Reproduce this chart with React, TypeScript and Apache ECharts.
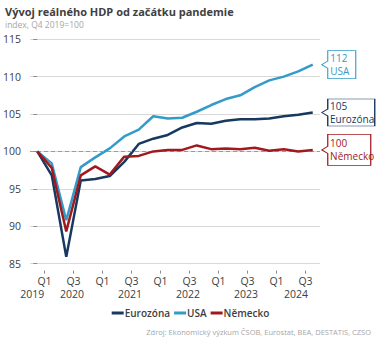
import React, { useEffect, useRef } from "react";
import * as echarts from "echarts";

const categories = [
  "Q4 2019", "Q1 2020", "Q2 2020", "Q3 2020", "Q4 2020",
  "Q1 2021", "Q2 2021", "Q3 2021", "Q4 2021",
  "Q1 2022", "Q2 2022", "Q3 2022", "Q4 2022",
  "Q1 2023", "Q2 2023", "Q3 2023", "Q4 2023",
  "Q1 2024", "Q2 2024", "Q3 2024",
];

const eurozona = [100, 96.8, 85.9, 96.1, 96.3, 96.7, 98.6, 101.0, 101.7, 102.2, 103.2, 103.8, 103.7, 104.1, 104.3, 104.3, 104.4, 104.7, 104.9, 105.2];
const usa = [100, 98.4, 90.8, 97.9, 99.2, 100.4, 102.0, 102.9, 104.7, 104.4, 104.5, 105.3, 106.2, 107.0, 107.5, 108.6, 109.5, 110.0, 110.7, 111.6];
const nemecko = [100, 97.8, 89.3, 96.8, 98.0, 96.9, 99.3, 99.4, 100.0, 100.2, 100.2, 100.8, 100.3, 100.4, 100.3, 100.5, 100.1, 100.3, 100.0, 100.2];

const seriesNames = ["Eurozóna", "USA", "Německo"];
const quarterTickLabels = ["Q1", "Q3", "Q1", "Q3", "Q1", "Q3", "Q1", "Q3", "Q1", "Q3"];
const yearLabels = ["2019", "2020", "2021", "2022", "2023", "2024"];
const baseline = 100;

const titleText = "Vývoj reálného HDP od začátku pandemie";
const subtitleText = "index, Q4 2019=100";
const sourceText = "Zdroj: Ekonomický výzkum ČSOB, Eurostat, BEA, DESTATIS, CZSO";

// layout / style (not data)
const quarterTickPos = quarterTickLabels.map((_, i) => 0.5 + 2 * i);
const yearLabelPos = [-0.35, 2.4, 6.4, 10.4, 14.4, 17.85];
const colors = ["#17385f", "#329bc8", "#a0191e"];
const boxSizes = [
  [53, 27],
  [34, 28],
  [49, 31],
];
const FONT = "'Open Sans', 'Noto Sans', sans-serif";

function calloutPath(w: number, h: number) {
  const n = 6;
  const m = h / 2;
  return `path://M${n} 0H${w}V${h}H${n}V${m + 3.5}L0 ${m}L${n} ${m - 3.5}Z`;
}

export default function App() {
  const ref = useRef<HTMLDivElement>(null);

  useEffect(() => {
    document.body.style.margin = "0";
    if (!ref.current) return;
    const chart = echarts.init(ref.current, null, { renderer: "svg" });
    const all = [eurozona, usa, nemecko];

    const series: any[] = all.map((vals, si) => {
      const last = vals.length - 1;
      const [w, h] = boxSizes[si];
      const s: any = {
        name: seriesNames[si],
        type: "line",
        data: vals.map((v, i) => [i, v]),
        showSymbol: false,
        symbol: "none",
        lineStyle: { width: 2.5, color: colors[si] },
        itemStyle: { color: colors[si] },
        z: 3 + si,
        markPoint: {
          silent: true,
          symbol: calloutPath(w, h),
          symbolSize: [w, h],
          symbolKeepAspect: false,
          symbolOffset: [9 + w / 2, 0],
          itemStyle: { color: "#ffffff", borderColor: colors[si], borderWidth: 1 },
          label: {
            show: true,
            position: [9, h / 2],
            align: "left",
            verticalAlign: "middle",
            color: colors[si],
            fontSize: 10,
            lineHeight: 13,
            fontFamily: FONT,
            formatter: () => `${Math.round(vals[last])}\n${seriesNames[si]}`,
          },
          data: [{ coord: [last, vals[last]] }],
        },
      };
      if (si === 0) {
        s.markLine = {
          silent: true,
          symbol: "none",
          label: { show: false },
          lineStyle: { color: "#9a9a9a", type: [4, 3], width: 1 },
          data: [{ yAxis: baseline }],
        };
      }
      return s;
    });

    chart.setOption({
      animation: false,
      title: [
        {
          text: titleText,
          subtext: subtitleText,
          left: 0,
          top: 1,
          itemGap: 3,
          textStyle: { fontSize: 11, fontWeight: "bold", color: "#404040", fontFamily: FONT },
          subtextStyle: { fontSize: 8.5, color: "#a6a6a6", fontFamily: FONT },
        },
        {
          text: sourceText,
          right: 5,
          top: 323,
          textStyle: { fontSize: 7.5, fontWeight: "normal", color: "#a6a6a6", fontFamily: FONT },
        },
      ],
      legend: {
        data: seriesNames,
        left: "center",
        top: 303,
        icon: "rect",
        itemWidth: 12,
        itemHeight: 3,
        itemGap: 4,
        textStyle: { fontSize: 10, fontWeight: 600, color: "#404040", fontFamily: FONT, padding: [0, 0, 0, -4] },
      },
      grid: { left: 30, right: 61, top: 39.2, bottom: 79.4, containLabel: false },
      xAxis: [
        {
          type: "value",
          min: -0.5,
          max: categories.length - 0.5,
          offset: 7,
          axisLine: { show: false },
          splitLine: { show: false },
          axisTick: {
            show: true,
            length: 3,
            customValues: quarterTickPos,
            lineStyle: { color: "#8c8c8c" },
          },
          axisLabel: {
            customValues: quarterTickPos,
            margin: 5,
            fontSize: 10.5,
            color: "#404040",
            fontFamily: FONT,
            formatter: (v: number) => {
              const i = quarterTickPos.findIndex((p) => Math.abs(p - v) < 0.01);
              return i >= 0 ? quarterTickLabels[i] : "";
            },
          },
        },
        {
          type: "value",
          position: "bottom",
          min: -0.5,
          max: categories.length - 0.5,
          offset: 20,
          axisLine: { show: false },
          splitLine: { show: false },
          axisTick: { show: false },
          axisLabel: {
            customValues: yearLabelPos,
            margin: 5,
            fontSize: 10.5,
            color: "#404040",
            fontFamily: FONT,
            formatter: (v: number) => {
              const i = yearLabelPos.findIndex((p) => Math.abs(p - v) < 0.01);
              return i >= 0 ? yearLabels[i] : "";
            },
          },
        },
      ],
      yAxis: {
        type: "value",
        min: 85,
        max: 115,
        interval: 5,
        axisLine: { show: false },
        axisTick: { show: true, length: 4, lineStyle: { color: "#8c8c8c" } },
        splitLine: { show: true, lineStyle: { color: "#d9d9d9", width: 1 } },
        axisLabel: { margin: 9, fontSize: 10.5, color: "#404040", fontFamily: FONT },
      },
      series,
    });

    return () => chart.dispose();
  }, []);

  return <div ref={ref} style={{ width: 381, height: 343 }} />;
}
